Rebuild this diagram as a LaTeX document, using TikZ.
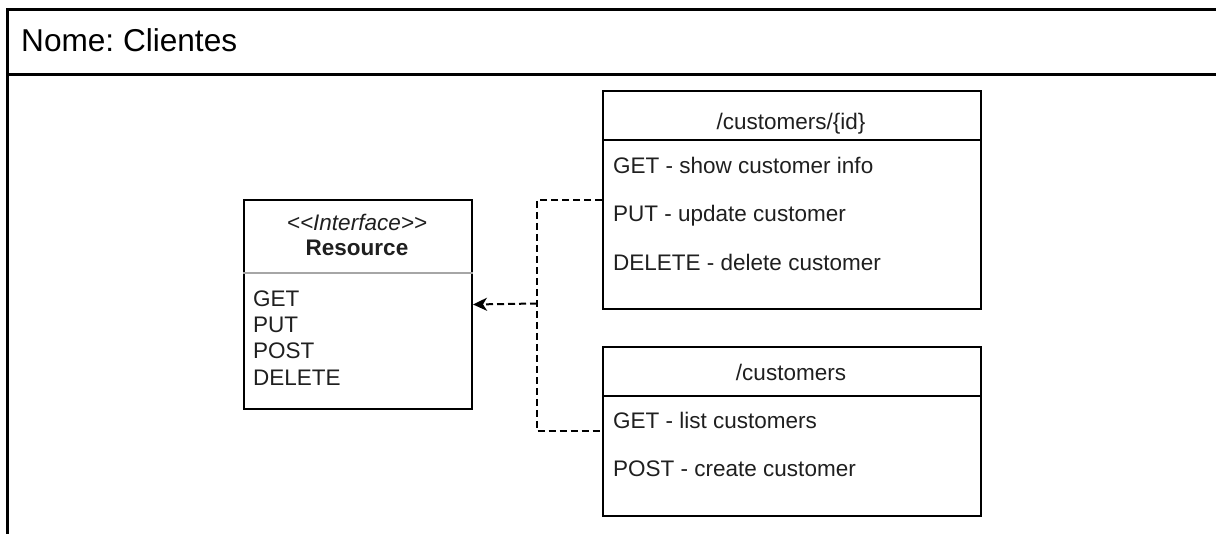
\documentclass[tikz,border=0pt]{standalone}
\usepackage{fontspec}
\setmainfont{Liberation Sans}
\frenchspacing
\usetikzlibrary{positioning,arrows.meta}

\begin{document}
\begin{tikzpicture}[
  x=1pt, y=-1pt,
  font=\fontsize{22.5}{27}\selectfont,
  frame/.style={draw, line width=3pt, anchor=north west, inner sep=0pt},
  cls/.style={draw, line width=2pt, anchor=north west, inner sep=0pt},
  sep/.style={line width=2pt},
  gsep/.style={line width=1.5pt, draw=black!35},
  txt/.style={inner sep=0pt, text height=16.6pt, text depth=0.5pt,
              text=black!88},
  meth/.style={txt, anchor=west},
  dsh/.style={line width=2pt, dash pattern=on 7pt off 4pt},
  >={Stealth[length=14pt, width=13pt, inset=4pt]},
]
\useasboundingbox (0,0) rectangle (1216,534);

% outer frame with its title bar
\node[frame, minimum width=1240pt, minimum height=65pt] (hdr) at (6,8.5) {};
\node[frame, minimum width=1240pt, minimum height=500pt] (pane) at (6,73.5) {};
\node[txt, anchor=west, font=\fontsize{31.6}{38}\selectfont,
      text height=23.1pt, text=black] (nome) at (21,40.5) {Nome: Clientes};

% interface
\node[cls, minimum width=228pt, minimum height=209pt] (res) at (243,199) {};
\draw[gsep] (res.west |- 0,273) -- (res.east |- 0,273);
\node[txt, font=\fontsize{22.5}{27}\itshape] (stereo) at (357,222)
     {<\kern0pt<Interface>\kern0pt>};
\node[txt, font=\fontsize{22.5}{27}\bfseries] (rname) at (357,247) {Resource};
\node[meth] (rget) at (253,298) {GET};
\node[meth] (rput) at (253,324) {PUT};
\node[meth] (rpost) at (253,350) {POST};
\node[meth] (rdel) at (253,377) {DELETE};

% /customers/{id}
\node[cls, minimum width=378pt, minimum height=218pt] (one) at (602,90) {};
\draw[sep] (one.west |- 0,140) -- (one.east |- 0,140);
\node[txt] (onet) at (791,121) {/customers/\{id\}};
\node[meth] (oget) at (613,165) {GET - show customer info};
\node[meth] (oput) at (613,213) {PUT - update customer};
\node[meth] (odel) at (613,262) {DELETE - delete customer};

% /customers
\node[cls, minimum width=378pt, minimum height=169pt] (all) at (602,346) {};
\draw[sep] (all.west |- 0,396) -- (all.east |- 0,396);
\node[txt] (allt) at (791,372) {/customers};
\node[meth] (aget) at (613,420) {GET - list customers};
\node[meth] (apost) at (613,468) {POST - create customer};

% realization
\coordinate (j) at (537,303.5);
\draw[dsh] (one.west) -| (j) |- (all.west);
\draw[dsh, ->] (j) -- (res.east);

\end{tikzpicture}
\end{document}
